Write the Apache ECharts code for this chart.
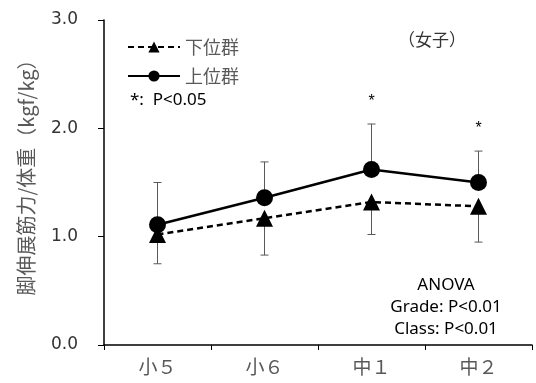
<!DOCTYPE html>
<html>
<head>
<meta charset="utf-8">
<script src="https://cdn.jsdelivr.net/npm/echarts@6/dist/echarts.min.js"></script>
<style>
  html, body { margin: 0; padding: 0; background: #fff; }
  #main { width: 536px; height: 383px; }
</style>
</head>
<body>
<div id="main"></div>
<script>
var categories = ['小５', '小６', '中１', '中２'];
var lowerMean = [1.02, 1.17, 1.32, 1.28]; // 下位群
var lowerSD = [0.27, 0.34, 0.30, 0.33];
var upperMean = [1.11, 1.36, 1.62, 1.50]; // 上位群
var upperSD = [0.39, 0.33, 0.42, 0.29];
var sigMark = ['', '', '*', '*'];

var myChart = echarts.init(document.getElementById('main'));

// 誤差棒（上位群は上向き、下位群は下向き）
function errRender(means, sds, dir) {
  return function (params, api) {
    var i = api.value(0);
    var p0 = api.coord([i, means[i]]);
    var p1 = api.coord([i, means[i] + dir * sds[i]]);
    var style = { stroke: '#595959', lineWidth: 1 };
    return {
      type: 'group',
      children: [
        { type: 'line', shape: { x1: p0[0], y1: p0[1], x2: p1[0], y2: p1[1] }, style: style },
        { type: 'line', shape: { x1: p1[0] - 4, y1: p1[1], x2: p1[0] + 4, y2: p1[1] }, style: style }
      ]
    };
  };
}

var idx = categories.map(function (c, i) { return [i]; });

var option = {
  animation: false,
  grid: { left: 104, right: 4, top: 20, bottom: 38 },
  legend: {
    orient: 'vertical',
    left: 122,
    top: 33,
    itemWidth: 52,
    itemHeight: 14,
    itemGap: 11,
    textStyle: { fontSize: 18, color: '#595959', fontFamily: 'Noto Sans CJK JP' },
    data: ['下位群', '上位群']
  },
  xAxis: {
    type: 'category',
    data: categories,
    axisLine: { lineStyle: { color: '#000', width: 1.5 } },
    axisTick: { show: true, length: 5, lineStyle: { color: '#000' } },
    axisLabel: { fontSize: 19, color: '#595959', margin: 12, fontFamily: 'Noto Sans CJK JP' }
  },
  yAxis: {
    type: 'value',
    min: 0,
    max: 3,
    interval: 1,
    name: '脚伸展筋力/体重（kgf/kg）',
    nameLocation: 'middle',
    nameGap: 68,
    nameTextStyle: { fontSize: 20, color: '#595959', fontFamily: 'Noto Sans CJK JP', padding: [0, 0, 0, 20] },
    axisLine: { show: true, lineStyle: { color: '#000', width: 1.5 } },
    axisTick: { show: true, length: 6, lineStyle: { color: '#000' } },
    splitLine: { show: false },
    axisLabel: {
      fontSize: 17,
      color: '#333',
      margin: 26,
      fontFamily: 'DejaVu Sans',
      formatter: function (v) { return v.toFixed(1); }
    }
  },
  graphic: [
    { type: 'text', left: 398, top: 31, style: { text: '（女子）', fontSize: 17, fill: '#333', fontFamily: 'Noto Sans CJK JP' } },
    { type: 'text', left: 130, top: 92, style: { text: '*:  P<0.05', fontSize: 17, fill: '#000', fontFamily: 'Noto Sans' } },
    {
      type: 'text', x: 446, y: 274,
      style: {
        text: 'ANOVA\nGrade: P<0.01\nClass: P<0.01',
        align: 'center', fontSize: 17, lineHeight: 22, fill: '#000', fontFamily: 'Noto Sans'
      }
    }
  ],
  series: [
    {
      type: 'custom',
      renderItem: errRender(lowerMean, lowerSD, -1),
      data: idx,
      z: 1,
      silent: true
    },
    {
      type: 'custom',
      renderItem: errRender(upperMean, upperSD, 1),
      data: idx,
      z: 1,
      silent: true
    },
    {
      type: 'custom',
      renderItem: function (params, api) {
        var i = api.value(0);
        var p = api.coord([i, upperMean[i] + upperSD[i]]);
        return {
          type: 'text',
          x: p[0],
          y: p[1] - 22,
          style: { text: sigMark[i], fontSize: 16, fill: '#000', align: 'center', verticalAlign: 'middle' }
        };
      },
      data: idx,
      silent: true
    },
    {
      name: '下位群',
      type: 'line',
      data: lowerMean,
      symbol: 'triangle',
      symbolSize: 17,
      itemStyle: { color: '#000' },
      lineStyle: { color: '#000', width: 2.5, type: [6, 4] },
      z: 3
    },
    {
      name: '上位群',
      type: 'line',
      data: upperMean,
      symbol: 'circle',
      symbolSize: 17,
      itemStyle: { color: '#000' },
      lineStyle: { color: '#000', width: 2.5 },
      z: 4
    }
  ]
};
myChart.setOption(option);
</script>
</body>
</html>
